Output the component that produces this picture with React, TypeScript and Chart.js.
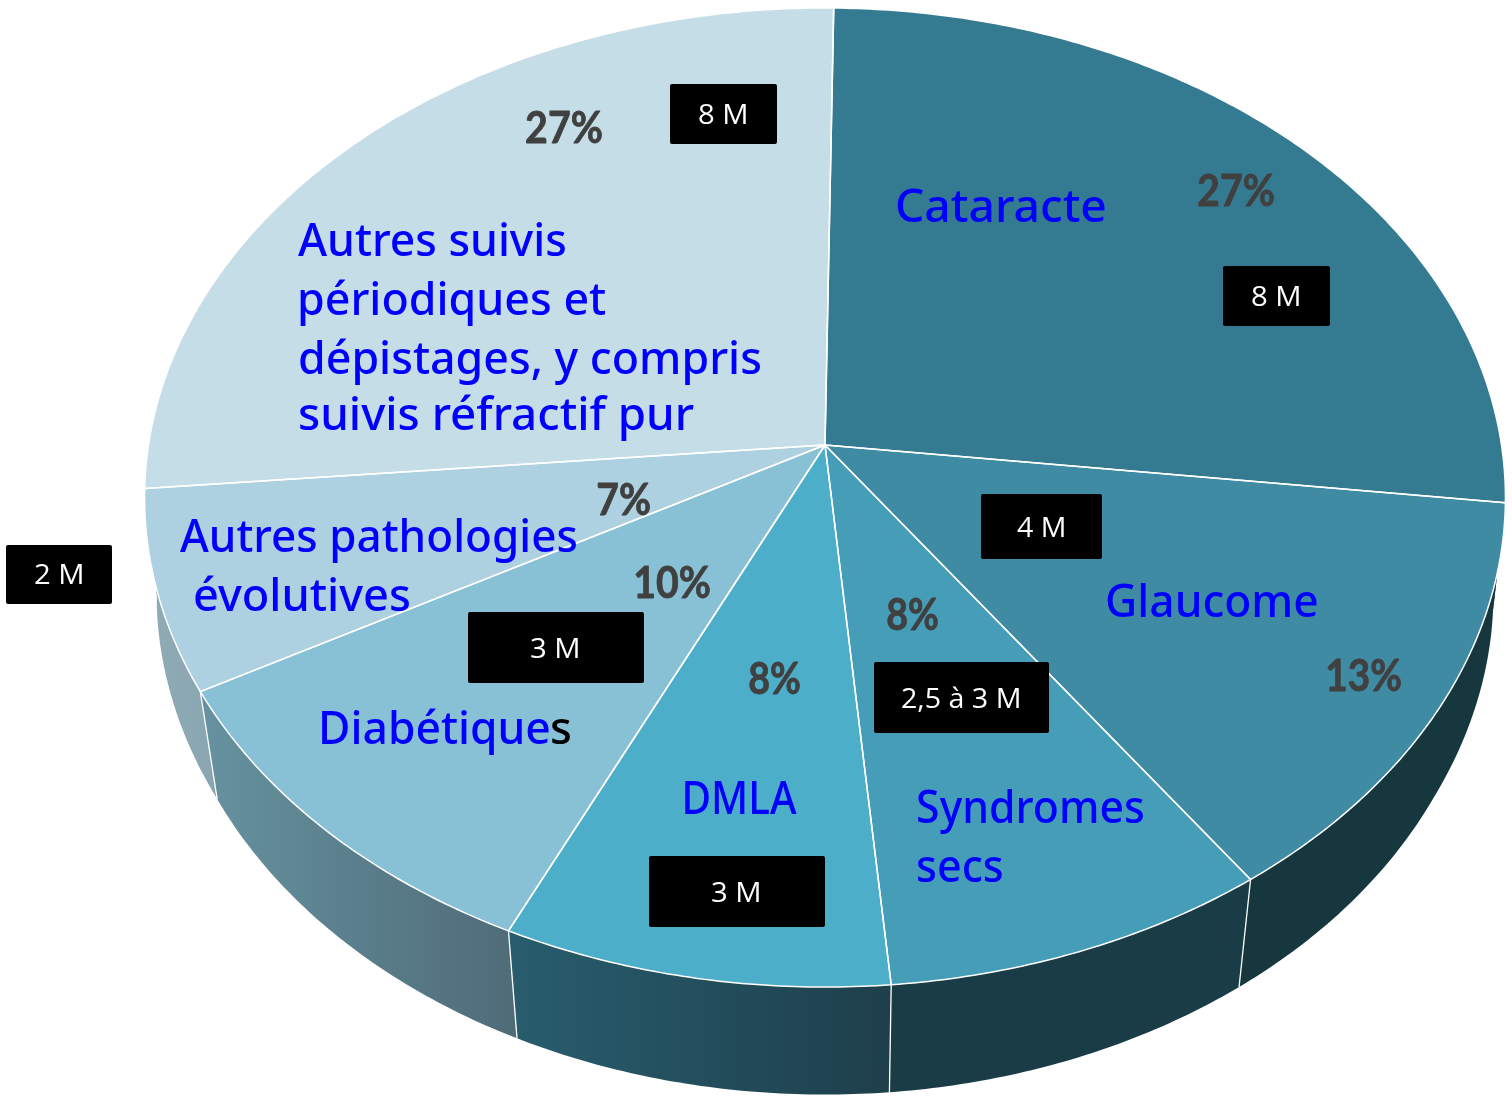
import React, { useEffect, useRef } from "react";
import { Chart, registerables } from "chart.js";

Chart.register(...registerables);

// ---- data ----
const categories = [
  "Cataracte",
  "Glaucome",
  "Syndromes secs",
  "DMLA",
  "Diabétiques",
  "Autres pathologies évolutives",
  "Autres suivis périodiques et dépistages, y compris suivis réfractif pur",
];
const shares = [26.64, 13.39, 8.33, 8.33, 10.03, 6.6, 26.64];
const topColors = ["#347A91", "#3E8BA3", "#459DB8", "#4DAECA", "#88C1D6", "#ADD1E0", "#C5DDE7"];
const wallLeftColors = ["#17373F", "#17373F", "#1A3C47", "#285D6E", "#66929F", "#8FACB6", "#8FACB6"];
const wallRightColors = ["#17373F", "#17373F", "#1A3C47", "#1E3F4B", "#4F6B78", "#8AA5AF", "#8FACB6"];

// ---- picture geometry (a tilted disc seen in perspective) ----
const APEX_X = 825;
const APEX_Y = 445;
const HALF_W = 676.5;
const HALF_H = 483.9;
const TILT = 0.1073;
const WALL_DROP = 107.5;
const ROTATION_DEG = 0.82;

type P = { x: number; y: number };
const project = (angle: number): P => {
  const u = Math.cos(angle);
  const v = Math.sin(angle);
  const w = 1 - TILT * v;
  return { x: APEX_X + (HALF_W * u) / w, y: APEX_Y + (HALF_H * v) / w };
};
const lower = (p: P): P => {
  const t = Math.min(1, Math.max(0, (690 - p.y) / 190));
  const s = 0.973 + 0.009 * t;
  return { x: APEX_X + s * (p.x - APEX_X), y: p.y + WALL_DROP };
};
const arcPoints = (a0: number, a1: number): P[] => {
  const n = Math.max(2, Math.ceil((a1 - a0) / 0.01));
  const pts: P[] = [];
  for (let i = 0; i <= n; i++) pts.push(project(a0 + ((a1 - a0) * i) / n));
  return pts;
};

const tiltedPie = {
  id: "tiltedPie",
  beforeDatasetDraw(chart: any, args: any) {
    const ctx: CanvasRenderingContext2D = chart.ctx;
    const arcs = args.meta.data.map((el: any) => el.getProps(["startAngle", "endAngle"], true));

    // side wall first
    arcs.forEach((arc: any, i: number) => {
      const top = arcPoints(arc.startAngle, arc.endAngle);
      const bottom = top.map(lower);
      const xs = top.concat(bottom).map((p) => p.x);
      const g = ctx.createLinearGradient(Math.min(...xs), 0, Math.max(...xs), 0);
      g.addColorStop(0, wallLeftColors[i]);
      g.addColorStop(1, wallRightColors[i]);
      ctx.beginPath();
      top.forEach((p, k) => (k ? ctx.lineTo(p.x, p.y) : ctx.moveTo(p.x, p.y)));
      bottom.reverse().forEach((p) => ctx.lineTo(p.x, p.y));
      ctx.closePath();
      ctx.fillStyle = g;
      ctx.fill();
    });

    // separators on the front of the wall
    ctx.strokeStyle = "#FFFFFF";
    ctx.lineWidth = 1.3;
    arcs.forEach((arc: any) => {
      const p = project(arc.endAngle);
      if (Math.sin(arc.endAngle) > 0.2) {
        const q = lower(p);
        ctx.beginPath();
        ctx.moveTo(p.x, p.y);
        ctx.lineTo(q.x, q.y);
        ctx.stroke();
      }
    });

    // top faces
    arcs.forEach((arc: any, i: number) => {
      const pts = arcPoints(arc.startAngle, arc.endAngle);
      ctx.beginPath();
      ctx.moveTo(APEX_X, APEX_Y);
      pts.forEach((p) => ctx.lineTo(p.x, p.y));
      ctx.closePath();
      ctx.fillStyle = topColors[i];
      ctx.fill();
    });
    arcs.forEach((arc: any) => {
      const pts = arcPoints(arc.startAngle, arc.endAngle);
      ctx.beginPath();
      ctx.moveTo(APEX_X, APEX_Y);
      pts.forEach((p) => ctx.lineTo(p.x, p.y));
      ctx.closePath();
      ctx.strokeStyle = "#FFFFFF";
      ctx.lineWidth = 1.5;
      ctx.lineJoin = "round";
      ctx.stroke();
    });
    return false;
  },
  afterDraw(chart: any) {
    const ctx: CanvasRenderingContext2D = chart.ctx;
    ctx.save();
    ctx.textBaseline = "alphabetic";
    ctx.textAlign = "left";
    boxes.forEach(([x, y, w, h]) => {
      ctx.beginPath();
      (ctx as any).roundRect(x, y, w, h, 2);
      ctx.fillStyle = "#000000";
      ctx.fill();
    });
    boxTexts.forEach((t) => fitText(ctx, t, BOX_FONT, "#FFFFFF"));
    percentTexts.forEach((t) => fitText(ctx, t, PCT_FONT, "#404040", 0.8));
    nameTexts.forEach((t) => fitText(ctx, t, NAME_FONT, "#0000FF"));
    fitText(ctx, blackS, NAME_FONT, "#000000");
    ctx.restore();
  },
};

// ---- annotations: text, left x, baseline y, width ----
type T = [string, number, number, number];
const NAME_FONT = '500 45px "Noto Sans"';
const PCT_FONT = 'bold 44px Lato';
const BOX_FONT = '400 27px "Open Sans"';

const nameTexts: T[] = [
  ["Cataracte", 897, 222, 208],
  ["Autres suivis", 298, 256, 267],
  ["périodiques et", 300, 315, 306],
  ["dépistages, y compris", 300, 374, 460],
  ["suivis réfractif pur", 300, 430, 394],
  ["Autres pathologies", 180, 552, 396],
  ["évolutives", 195, 611, 214],
  ["Glaucome", 1107, 617, 210],
  ["Syndromes", 918, 823, 225],
  ["secs", 918, 882, 84],
  ["DMLA", 685, 814, 112],
  ["Diabétique", 322, 744, 227],
];
const blackS: T = ["s", 552, 744, 18];
const percentTexts: T[] = [
  ["27%", 526, 143, 76],
  ["27%", 1198, 206, 76],
  ["13%", 1327, 691, 74],
  ["8%", 887, 630, 51],
  ["8%", 749, 694, 51],
  ["10%", 635, 598, 75],
  ["7%", 598, 515, 52],
];
const boxes: [number, number, number, number][] = [
  [670, 84, 107, 60],
  [1223, 266, 107, 60],
  [981, 494, 121, 65],
  [874, 662, 175, 71],
  [468, 612, 176, 71],
  [649, 856, 176, 71],
  [6, 545, 106, 59],
];
const boxTexts: T[] = [
  ["8 M", 699, 124, 47],
  ["8 M", 1252, 306, 47],
  ["4 M", 1017, 537, 47],
  ["2,5 à 3 M", 902, 708, 117],
  ["3 M", 531, 658, 47],
  ["3 M", 712, 902, 47],
  ["2 M", 35, 584, 47],
];

function fitText(ctx: CanvasRenderingContext2D, t: T, font: string, color: string, embolden = 0) {
  const [text, x, y, width] = t;
  ctx.save();
  ctx.font = font;
  ctx.fillStyle = color;
  const m = ctx.measureText(text);
  const painted = (m.actualBoundingBoxRight ?? m.width) + (m.actualBoundingBoxLeft ?? 0);
  const sx = width / painted;
  ctx.translate(x, y);
  ctx.scale(sx, 1);
  ctx.fillText(text, m.actualBoundingBoxLeft ?? 0, 0);
  if (embolden > 0) {
    ctx.strokeStyle = color;
    ctx.lineWidth = embolden;
    ctx.strokeText(text, m.actualBoundingBoxLeft ?? 0, 0);
  }
  ctx.restore();
}

export default function App() {
  const ref = useRef<HTMLCanvasElement>(null);
  useEffect(() => {
    let chart: Chart | null = null;
    if (ref.current) {
      chart = new Chart(ref.current, {
        type: "pie",
        data: {
          labels: categories,
          datasets: [{ data: shares, backgroundColor: topColors, borderColor: "#FFFFFF", borderWidth: 1.5 }],
        },
        options: {
          animation: false,
          responsive: false,
          devicePixelRatio: 1,
          rotation: ROTATION_DEG,
          events: [],
          plugins: { legend: { display: false }, tooltip: { enabled: false } },
        },
        plugins: [tiltedPie as any],
      });
    }
    return () => {
      if (chart) chart.destroy();
    };
  }, []);
  return (
    <canvas
      ref={ref}
      width={1512}
      height={1096}
      style={{ position: "absolute", left: 0, top: 0, width: 1512, height: 1096, display: "block", background: "#FFFFFF" }}
    />
  );
}
